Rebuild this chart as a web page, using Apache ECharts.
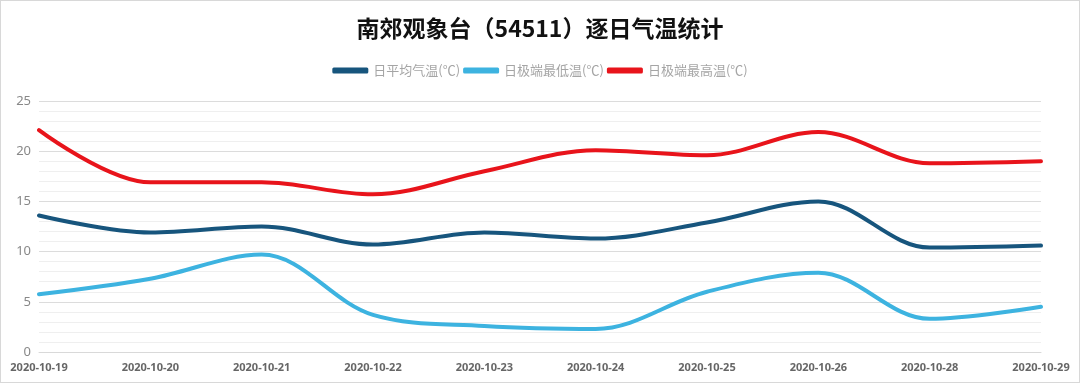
<!DOCTYPE html>
<html><head><meta charset="utf-8">
<script src="https://cdn.jsdelivr.net/npm/echarts@6/dist/echarts.min.js"></script>
<style>html,body{margin:0;padding:0;background:#fff}#c{width:1078px;height:381px;border:1px solid #d8d8d8}</style>
</head><body><div id="c"></div>
<script>
const categories = ['2020-10-19','2020-10-20','2020-10-21','2020-10-22','2020-10-23','2020-10-24','2020-10-25','2020-10-26','2020-10-28','2020-10-29'];
const avgTemp = [13.6, 11.9, 12.5, 10.7, 11.9, 11.3, 12.9, 15.0, 10.4, 10.6];
const minTemp = [5.75, 7.3, 9.7, 3.7, 2.6, 2.3, 6.0, 7.9, 3.3, 4.5];
const maxTemp = [22.1, 16.9, 16.9, 15.7, 18.0, 20.1, 19.6, 21.9, 18.8, 19.0];
const names = ['日平均气温(℃)','日极端最低温(℃)','日极端最高温(℃)'];
const colors = ['#17557d','#3db3e0','#e8141b'];
const chart = echarts.init(document.getElementById('c'));
const mk = (i, d) => ({name: names[i], type: 'line', data: d, smooth: 0.35, symbol: 'none',
  lineStyle: {width: 4, color: colors[i], cap: 'round'}, itemStyle: {color: colors[i]}});
chart.setOption({
  animation: false,
  title: {text: '南郊观象台（54511）逐日气温统计', left: 'center', top: 11,
    textStyle: {fontSize: 23, fontWeight: 'bold', color: '#111', fontFamily: 'Noto Sans CJK SC'}},
  legend: {top: 58, itemGap: 3, itemWidth: 36, itemHeight: 6, icon: 'roundRect',
    textStyle: {color: '#a5a5a5', fontSize: 13, fontFamily: 'Noto Sans CJK SC'}},
  grid: {left: 38, right: 38, top: 100, bottom: 30},
  xAxis: {type: 'category', data: categories, boundaryGap: false,
    axisLine: {lineStyle: {color: '#d9d9d9'}}, axisTick: {show: false},
    axisLabel: {color: '#666', fontSize: 11, fontWeight: 'bold', margin: 10, interval: 0, fontFamily: 'Noto Sans'}},
  yAxis: {type: 'value', min: 0, max: 25, interval: 5,
    axisLine: {show: false}, axisTick: {show: false},
    axisLabel: {color: '#888', fontSize: 13, fontFamily: 'Noto Sans'},
    splitLine: {lineStyle: {color: '#dcdcdc', width: 1}},
    minorTick: {show: false, splitNumber: 5},
    minorSplitLine: {show: true, lineStyle: {color: '#efefef', width: 1}}},
  series: [mk(0, avgTemp), mk(1, minTemp), mk(2, maxTemp)]
});
</script></body></html>
